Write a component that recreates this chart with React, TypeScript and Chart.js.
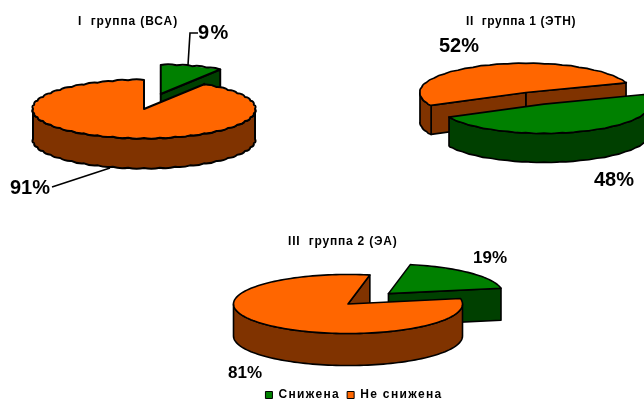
import React, { useEffect, useRef } from "react";
import { Chart, registerables } from "chart.js";

Chart.register(...registerables);

const FONT = '"Liberation Sans", Arial, sans-serif';

const statusLabels = ["Снижена", "Не снижена"];
const group1Title = "I  группа (ВСА)";
const group1Values = [9, 91];
const group2Title = "II  группа 1 (ЭТН)";
const group2Values = [52, 48];
const group3Title = "III  группа 2 (ЭА)";
const group3Values = [19, 81];

const GREEN = "#008000";
const GREEN_WALL = "#004000";
const ORANGE = "#FF6600";
const ORANGE_WALL = "#803300";

type Caption = { text: string; x: number; y: number; size: number; spacing?: number };
type Leader = number[][];

// Projects a pie angle onto the tilted disc.
const project = (cx: number, cy: number, r: number, k: number, a: number) => [
  cx + r * Math.cos(a),
  cy + r * k * Math.sin(a),
];

// Traces the rim from a to b, either smooth or with small outward lobes.
function traceRim(
  ctx: CanvasRenderingContext2D,
  cx: number,
  cy: number,
  r: number,
  k: number,
  a: number,
  b: number,
  lobes: number,
  bump: number,
) {
  const dir = b >= a ? 1 : -1;
  const step = lobes > 0 ? (Math.PI * 2) / lobes : Math.PI / 90;
  const pts: number[] = [a];
  const first = dir > 0 ? Math.floor(a / step) + 1 : Math.ceil(a / step) - 1;
  for (let i = first; dir > 0 ? i * step < b : i * step > b; i += dir) pts.push(i * step);
  pts.push(b);
  for (let i = 1; i < pts.length; i++) {
    const [x, y] = project(cx, cy, r, k, pts[i]);
    if (lobes > 0) {
      const m = (pts[i - 1] + pts[i]) / 2;
      const [mx, my] = project(cx, cy, r + bump * 2, k, m);
      const yLift = Math.sin(m) >= 0 ? bump * 1.4 : -bump * 1.4;
      ctx.quadraticCurveTo(mx, my + yLift, x, y);
    } else {
      ctx.lineTo(x, y);
    }
  }
}

// Parts of [start, end] on the near half of the disc, where the rim wall shows.
function nearSpans(start: number, end: number) {
  const spans: number[][] = [];
  const two = Math.PI * 2;
  for (let n = -2; n <= 2; n++) {
    const lo = Math.max(start, n * two);
    const hi = Math.min(end, n * two + Math.PI);
    if (hi > lo) spans.push([lo, hi]);
  }
  return spans;
}

const tiltedPie = {
  id: "tiltedPie",
  // The context is reset whenever the canvas is sized, so spacing is set per update.
  beforeUpdate(chart: any, _args: any, opts: any) {
    chart.ctx.letterSpacing = `${opts.legendSpacing}px`;
  },
  afterLayout(chart: any, _args: any, opts: any) {
    if (opts.legendShift && chart.legend) {
      chart.legend.left += opts.legendShift;
      chart.legend.right += opts.legendShift;
    }
  },
  beforeDatasetsDraw(chart: any, _args: any, opts: any) {
    const ctx: CanvasRenderingContext2D = chart.ctx;
    const { tilt: k, depth, explode, walls, lobes, bump, lineWidth } = opts;
    chart.getDatasetMeta(0).data.forEach((arc: any, i: number) => {
      const { x, y, startAngle: s, endAngle: e, outerRadius: r } = arc;
      const mid = (s + e) / 2;
      const cx = x + explode[i] * Math.cos(mid);
      const cy = y + explode[i] * k * Math.sin(mid);
      ctx.save();
      ctx.lineWidth = lineWidth;
      ctx.strokeStyle = "#000";
      ctx.lineJoin = "round";
      ctx.fillStyle = walls[i];

      // flat cut faces that turn towards the viewer
      const radial: number[] = [];
      if (Math.cos(s) < -1e-6) radial.push(s);
      if (Math.cos(e) > 1e-6) radial.push(e);
      radial.forEach((a) => {
        const [px, py] = project(cx, cy, r, k, a);
        ctx.beginPath();
        ctx.moveTo(cx, cy);
        ctx.lineTo(px, py);
        ctx.lineTo(px, py + depth);
        ctx.lineTo(cx, cy + depth);
        ctx.closePath();
        ctx.fill();
        ctx.stroke();
      });

      // curved outer wall
      nearSpans(s, e).forEach(([a, b]) => {
        const [ax, ay] = project(cx, cy, r, k, a);
        ctx.beginPath();
        ctx.moveTo(ax, ay);
        traceRim(ctx, cx, cy, r, k, a, b, lobes, bump);
        const [bx, by] = project(cx, cy, r, k, b);
        ctx.lineTo(bx, by + depth);
        traceRim(ctx, cx, cy + depth, r, k, b, a, lobes, bump);
        ctx.closePath();
        ctx.fill();
        ctx.stroke();
      });

      // top face: filled by the arc element under a squashed transform
      ctx.save();
      ctx.translate(cx, cy);
      ctx.scale(1, k);
      ctx.translate(-x, -y);
      arc.draw(ctx, chart.chartArea);
      ctx.restore();

      const [sx, sy] = project(cx, cy, r, k, s);
      ctx.beginPath();
      ctx.moveTo(cx, cy);
      ctx.lineTo(sx, sy);
      traceRim(ctx, cx, cy, r, k, s, e, lobes, bump);
      ctx.closePath();
      ctx.stroke();
      ctx.restore();
    });
    return false;
  },
  afterDraw(chart: any, _args: any, opts: any) {
    const ctx: any = chart.ctx;
    const { originX, originY, captions, leaders } = opts;
    ctx.save();
    ctx.translate(-originX, -originY);
    ctx.strokeStyle = "#000";
    ctx.lineWidth = 1.6;
    (leaders as Leader[]).forEach((line) => {
      ctx.beginPath();
      line.forEach(([x, y], i) => (i ? ctx.lineTo(x, y) : ctx.moveTo(x, y)));
      ctx.stroke();
    });
    ctx.fillStyle = "#000";
    ctx.textBaseline = "middle";
    ctx.textAlign = "left";
    (captions as Caption[]).forEach((c) => {
      ctx.font = `bold ${c.size}px ${FONT}`;
      ctx.letterSpacing = `${c.spacing ?? 0}px`;
      ctx.fillText(c.text, c.x, c.y);
    });
    ctx.restore();
  },
};

type PieProps = {
  left: number;
  top: number;
  width: number;
  height: number;
  values: number[];
  labels: string[];
  colors: string[];
  walls: string[];
  explode: number[];
  rotation: number;
  radius: number;
  tilt: number;
  depth: number;
  lobes: number;
  bump: number;
  lineWidth: number;
  captions: Caption[];
  leaders: Leader[];
  legend?: boolean;
  legendShift?: number;
};

function TiltedPie(p: PieProps) {
  const ref = useRef<HTMLCanvasElement>(null);
  useEffect(() => {
    const chart = new Chart(ref.current!, {
      type: "doughnut",
      data: {
        labels: p.labels,
        datasets: [
          {
            data: p.values,
            backgroundColor: p.colors,
            borderWidth: 0,
          },
        ],
      },
      options: {
        responsive: false,
        animation: false,
        cutout: 0,
        radius: p.radius,
        rotation: p.rotation,
        layout: { padding: 0 },
        plugins: {
          tooltip: { enabled: false },
          tiltedPie: {
            tilt: p.tilt,
            depth: p.depth,
            explode: p.explode,
            walls: p.walls,
            lobes: p.lobes,
            bump: p.bump,
            lineWidth: p.lineWidth,
            originX: p.left,
            originY: p.top,
            captions: p.captions,
            leaders: p.leaders,
            legendShift: p.legendShift ?? 0,
            legendSpacing: p.legend ? 1.35 : 0,
          },
          legend: {
            display: !!p.legend,
            position: "bottom",
            labels: {
              boxWidth: 7,
              boxHeight: 7,
              padding: 7,
              color: "#000",
              font: { family: FONT, size: 12, weight: "bold" },
              generateLabels: (c: any) =>
                Chart.overrides.doughnut.plugins.legend.labels
                  .generateLabels(c)
                  .map((item: any) => ({ ...item, strokeStyle: "#000", lineWidth: 1 })),
            },
          },
        },
      } as any,
      plugins: [tiltedPie as any],
    });
    return () => chart.destroy();
  }, []);
  return (
    <canvas
      ref={ref}
      width={p.width}
      height={p.height}
      style={{ position: "absolute", left: p.left, top: p.top, display: "block" }}
    />
  );
}

export default function App() {
  return (
    <div
      style={{
        position: "fixed",
        left: 0,
        top: 0,
        width: 644,
        height: 401,
        overflow: "hidden",
        background: "#fff",
      }}
    >
      <TiltedPie
        left={0}
        top={0}
        width={288}
        height={218}
        values={group1Values}
        labels={statusLabels}
        colors={[GREEN, ORANGE]}
        walls={[GREEN_WALL, ORANGE_WALL]}
        explode={[60, 0]}
        rotation={0}
        radius={111}
        tilt={0.261}
        depth={30}
        lobes={44}
        bump={0.9}
        lineWidth={2}
        captions={[
          { text: group1Title, x: 78, y: 22, size: 12, spacing: 0.9 },
          { text: `${group1Values[0]}%`, x: 198, y: 33, size: 20, spacing: 1.5 },
          { text: `${group1Values[1]}%`, x: 10, y: 188, size: 20, spacing: 0 },
        ]}
        leaders={[
          [
            [198, 33],
            [190, 33],
            [188, 65],
          ],
          [
            [52, 187],
            [110, 168],
          ],
        ]}
      />
      <TiltedPie
        left={408}
        top={-10}
        width={236}
        height={205}
        values={group2Values}
        labels={statusLabels}
        colors={[ORANGE, GREEN]}
        walls={[ORANGE_WALL, GREEN_WALL]}
        explode={[0, 46]}
        rotation={243.5}
        radius={106}
        tilt={0.274}
        depth={29}
        lobes={36}
        bump={0.5}
        lineWidth={1.7}
        captions={[
          { text: group2Title, x: 466, y: 22, size: 12, spacing: 0.6 },
          { text: `${group2Values[0]}%`, x: 439, y: 46, size: 20, spacing: 0 },
          { text: `${group2Values[1]}%`, x: 594, y: 180, size: 20, spacing: 0 },
        ]}
        leaders={[]}
      />
      <TiltedPie
        left={178}
        top={226}
        width={340}
        height={185}
        values={group3Values}
        labels={statusLabels}
        colors={[GREEN, ORANGE]}
        walls={[GREEN_WALL, ORANGE_WALL]}
        explode={[57, 0]}
        rotation={11}
        radius={114.5}
        tilt={0.258}
        depth={32}
        lobes={0}
        bump={0}
        lineWidth={1.6}
        captions={[
          { text: group3Title, x: 288, y: 242, size: 12, spacing: 0.8 },
          { text: `${group3Values[0]}%`, x: 473, y: 258, size: 17, spacing: 0 },
          { text: `${group3Values[1]}%`, x: 228, y: 373, size: 17, spacing: 0 },
        ]}
        leaders={[]}
        legend
        legendShift={6}
      />
    </div>
  );
}
